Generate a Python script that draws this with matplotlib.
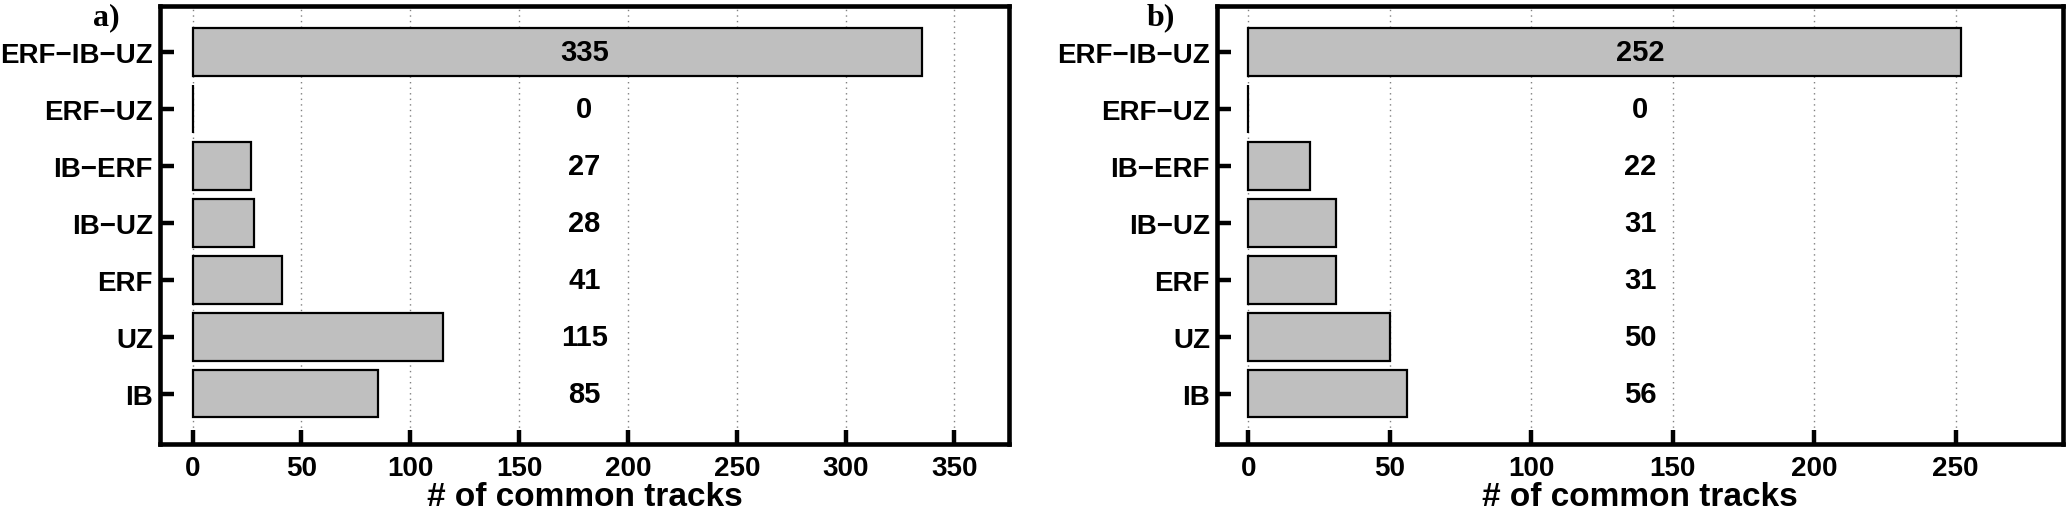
#!/usr/bin/env python3
"""Common tracks per detector combination, two panels"""

import numpy as np
import matplotlib
matplotlib.use("Agg")
import matplotlib.pyplot as plt

categories = ["IB", "UZ", "ERF", "IB\u2212UZ", "IB\u2212ERF", "ERF\u2212UZ", "ERF\u2212IB\u2212UZ"]
tracks_a = [85, 115, 41, 28, 27, 0, 335]
tracks_b = [56, 50, 31, 31, 22, 0, 252]
panel_tags = ["a)", "b)"]
xticks_a = [0, 50, 100, 150, 200, 250, 300, 350]
xticks_b = [0, 50, 100, 150, 200, 250]

plt.rcParams['font.family'] = ['Liberation Sans', 'DejaVu Sans']
plt.rcParams['font.weight'] = 'bold'


def tracer_panneau(ax, valeurs, xticks, xlim, tag, tag_x):
	y = np.arange(1, len(categories) + 1)
	ax.barh(y, valeurs, height=0.83, color="#bfbfbf", edgecolor="black",
	        linewidth=1.6, zorder=3)
	xmid = (xlim[0] + xlim[1]) / 2
	for yi, v in zip(y, valeurs):
		ax.text(xmid, yi, str(v), ha="center", va="center", fontsize=21,
		        fontweight="bold", zorder=4)
	ax.set_xlim(*xlim)
	ax.set_ylim(0.12, 7.81)
	ax.set_yticks(y)
	ax.set_yticklabels(categories)
	ax.set_xticks(xticks)
	ax.xaxis.grid(True, linestyle=(0, (1, 3)), color="#808080", linewidth=1.0, zorder=0)
	ax.tick_params(axis="both", direction="in", length=10, width=3.2,
	               labelsize=20)
	ax.tick_params(axis="x", pad=8)
	ax.tick_params(axis="y", pad=5)
	for s in ax.spines.values():
		s.set_linewidth(3.3)
	ax.set_xlabel("# of common tracks", fontsize=24, fontweight="bold")
	ax.xaxis.set_label_coords(0.5, -0.084)
	ax.figure.text(tag_x, 0.965, tag, ha="right", va="center", fontsize=23,
	               fontweight="bold", family=["Liberation Serif", "DejaVu Serif"])


def main():
	fig = plt.figure(figsize=(20.67, 5.10), dpi=100)
	ax_a = fig.add_axes([0.0774, 0.1275, 0.4107, 0.8588])
	ax_b = fig.add_axes([0.5888, 0.1275, 0.4093, 0.8588])
	tracer_panneau(ax_a, tracks_a, xticks_a, (-15, 375), panel_tags[0], 0.058)
	tracer_panneau(ax_b, tracks_b, xticks_b, (-11, 288), panel_tags[1], 0.5685)
	fig.savefig("out.png", dpi=100)


if __name__ == "__main__":
	main()
